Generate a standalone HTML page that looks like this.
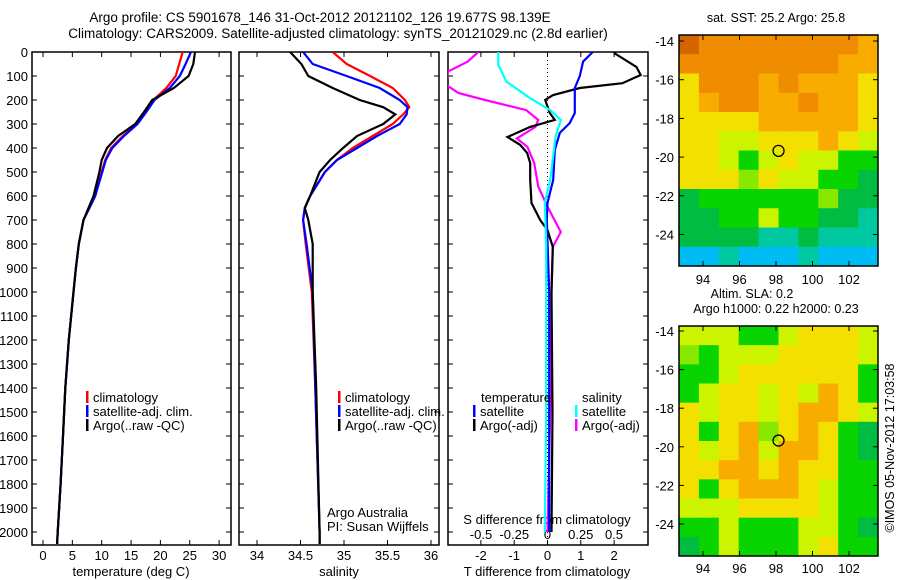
<!DOCTYPE html>
<html><head><meta charset="utf-8"><style>
body{margin:0;background:#fff}
svg{display:block;font-family:"Liberation Sans",sans-serif}
text{fill:#000}
</style></head><body>
<svg id="c" width="900" height="580" viewBox="0 0 900 580">
<text x="320" y="22" font-size="13.5" text-anchor="middle">Argo profile: CS 5901678_146 31-Oct-2012 20121102_126 19.677S 98.139E</text>
<text x="338" y="38" font-size="13.5" text-anchor="middle">Climatology: CARS2009. Satellite-adjusted climatology: synTS_20121029.nc (2.8d earlier)</text>
<text x="776" y="22" font-size="12.5" text-anchor="middle">sat. SST: 25.2 Argo: 25.8</text>
<text x="752" y="298" font-size="12.5" text-anchor="middle">Altim. SLA: 0.2</text>
<text x="776" y="313" font-size="12.5" text-anchor="middle">Argo h1000: 0.22 h2000: 0.23</text>
<text transform="translate(894,448) rotate(-90)" font-size="12.5" text-anchor="middle">©IMOS 05-Nov-2012 17:03:58</text>
</svg>
<script>
const depths=[0,50,100,150,200,250,300,350,400,450,500,600,700,800,900,1000,1200,1400,1600,1800,2000,2050];
const tempClim=[23.8,23.2,22.6,21,18.8,17.4,16,13.6,11.6,10.6,10,8.9,6.9,6.1,5.6,5.2,4.4,3.8,3.4,3.0,2.5,2.4];
const tempSat=[25.2,24.3,23.3,21.6,19,17.6,16.1,13.8,11.8,10.7,10.1,8.9,6.9,6.1,5.6,5.2,4.4,3.8,3.4,3.0,2.5,2.4];
const tempArgo=[25.9,25.6,24.8,22.3,18.6,17.2,15.7,12.8,10.9,10,9.6,8.6,6.9,6.1,5.6,5.2,4.4,3.8,3.4,3.0,2.5,2.4];
const salDepths=[0,50,100,150,200,230,260,300,350,400,450,500,600,650,700,800,1000,1400,2000,2050];
const salClim=[34.87,35.03,35.3,35.56,35.7,35.75,35.68,35.56,35.33,35.1,34.92,34.78,34.61,34.55,34.53,34.56,34.63,34.67,34.72,34.72];
const salSat=[34.53,34.64,35.03,35.41,35.64,35.73,35.72,35.64,35.38,35.15,34.92,34.78,34.61,34.55,34.53,34.57,34.64,34.67,34.72,34.72];
const salArgo=[34.38,34.51,34.59,34.87,35.18,35.45,35.59,35.45,35.15,34.99,34.84,34.72,34.61,34.55,34.59,34.64,34.64,34.68,34.72,34.72];
const dtArgoDepths=[4,62,96,130,150,179,200,254,283,312,354,387,421,463,533,629,700,742,812,1000,1500,2000];
const dtArgo=[2.0,2.67,2.8,2.25,0.97,0.17,-0.07,0.07,0.22,-0.52,-1.2,-0.82,-0.61,-0.52,-0.52,-0.48,-0.22,0,0.16,0.12,0.15,0.12];
const dtSatDepths=[0,40,100,150,254,296,337,408,533,629,700,1000,1500,2000];
const dtSat=[1.36,1.07,0.97,0.82,0.82,0.67,0.37,0.22,0.17,0,-0.02,0.05,0.05,0.05];
const dsArgoDepths=[0,40,82,137,171,200,242,283,312,360,396,463,560,644,750,812,1000,1500,2000];
const dsArgo=[-0.52,-0.6,-0.75,-0.76,-0.67,-0.47,-0.16,-0.07,-0.09,-0.23,-0.15,-0.1,-0.07,0,0.1,0.04,0.03,0.02,0.0];
const dsSatDepths=[0,53,123,193,242,283,354,533,629,800,1500,2000];
const dsSat=[-0.37,-0.37,-0.31,-0.13,0.02,0.1,0.06,0.02,-0.02,-0.01,-0.01,-0.02];
const depthTicks=[0,100,200,300,400,500,600,700,800,900,1000,1100,1200,1300,1400,1500,1600,1700,1800,1900,2000];
const tempTicks=[0,5,10,15,20,25,30];
const salTicks=[34,34.5,35,35.5,36];
const salTickLabels=["34","34.5","35","35.5","36"];
const dtTicks=[-2,-1,0,1,2];
const dsTicks=[-0.5,-0.25,0,0.25,0.5];
const lonTicks=[94,96,98,100,102];
const latTicks=[-14,-16,-18,-20,-22,-24];
const argoLon=98.139, argoLat=-19.677;
const sstGrid=["0111111112","1111111122","3111212223","3211221223","3333222223","3344333234","3346434466","3335344667","7666666577","7766466778","7777887888","9989998999"];
const slaGrid=["4446643334","5644433334","6643333336","6433434236","3433432234","3632532367","3432422367","3322323366","3632223466","4443333466","6646664467","7646664366"];
const palette=["#d46400","#f08c00","#f8ac00","#f4e000","#ccf400","#88e800","#08d400","#00bc40","#00c8a0","#00bcf4","#0098ff"];

const svg=document.getElementById('c');
const NS='http://www.w3.org/2000/svg';
function el(t,a,p){const e=document.createElementNS(NS,t);for(const k in a)e.setAttribute(k,a[k]);(p||svg).appendChild(e);return e;}
const yD=d=>52+0.24*d;
const xT=v=>43+5.87*v;
const xS=v=>257+87*(v-34);
const xDT=v=>547.5+33.3*v;
const xDS=v=>547.5+133*v;
const panels=[[32,231],[239,439],[448,648]];
const TOP=52,BOT=545;

function frame(x0,x1,name){
  const r=el('rect',{x:x0,y:TOP,width:x1-x0,height:BOT-TOP,fill:'none',stroke:'#000','stroke-width':1.5});
  
  
  depthTicks.forEach(d=>{const y=yD(d);
    el('line',{x1:x0,x2:x0+5,y1:y,y2:y,stroke:'#000'});
    el('line',{x1:x1-5,x2:x1,y1:y,y2:y,stroke:'#000'});});
}
frame(32,231,'temperature-panel');frame(239,439,'salinity-panel');frame(448,648,'difference-panel');
depthTicks.forEach(d=>{const t=el('text',{x:28,y:yD(d)+5,'font-size':13,'text-anchor':'end'});t.textContent=d;

});
function xticks(vals,labels,f,name){vals.forEach((v,i)=>{const x=f(v);
 el('line',{x1:x,x2:x,y1:BOT-5,y2:BOT,stroke:'#000'});el('line',{x1:x,x2:x,y1:TOP,y2:TOP+5,stroke:'#000'});
 const t=el('text',{x:x,y:560,'font-size':13,'text-anchor':'middle'});t.textContent=labels[i];
 
 });}
xticks(tempTicks,tempTicks.map(String),xT,'temperature-tick-label');
xticks(salTicks,salTickLabels,xS,'salinity-tick-label');
xticks(dtTicks,dtTicks.map(String),xDT,'t-difference-tick-label');
dsTicks.forEach(v=>{const t=el('text',{x:xDS(v),y:539,'font-size':13,'text-anchor':'middle'});t.textContent=String(v);

});
[['temperature (deg C)',131,'temperature-axis-title'],['salinity',339,'salinity-axis-title'],['T difference from climatology',547,'t-difference-axis-title']].forEach(a=>{
 const t=el('text',{x:a[1],y:576,'font-size':13,'text-anchor':'middle'});t.textContent=a[0];
 
 });
const sd=el('text',{x:547,y:524,'font-size':13,'text-anchor':'middle'});sd.textContent='S difference from climatology';


el('line',{x1:547.5,x2:547.5,y1:TOP,y2:BOT,stroke:'#000','stroke-dasharray':'1,3'});

const clip=el('clipPath',{id:'cp'});panels.forEach(p=>el('rect',{x:p[0],y:TOP,width:p[1]-p[0],height:BOT-TOP},clip));
function line(ds,vs,f,col,name){const pts=ds.map((d,i)=>f(vs[i]).toFixed(1)+','+yD(Math.min(d,2054)).toFixed(1)).join(' ');
 const p=el('polyline',{points:pts,fill:'none',stroke:col,'stroke-width':2.2,'clip-path':'url(#cp)'});
 
 }
line(depths,tempClim,xT,'#f00','temperature-climatology-line');
line(depths,tempSat,xT,'#00f','temperature-satellite-line');
line(depths,tempArgo,xT,'#000','temperature-argo-line');
line(salDepths,salClim,xS,'#f00','salinity-climatology-line');
line(salDepths,salSat,xS,'#00f','salinity-satellite-line');
line(salDepths,salArgo,xS,'#000','salinity-argo-line');
line(dsArgoDepths,dsArgo,xDS,'#f0f','s-diff-argo-line');
line(dtArgoDepths,dtArgo,xDT,'#000','t-diff-argo-line');
line(dtSatDepths,dtSat,xDT,'#00f','t-diff-satellite-line');
line(dsSatDepths,dsSat,xDS,'#0ff','s-diff-satellite-line');

function legend(x,y,col,txt,name){el('rect',{x:x,y:y-11,width:2.5,height:12,fill:col});
 const t=el('text',{x:x+7,y:y,'font-size':13});t.textContent=txt;
 
 }
[[86,'temp'],[338,'sal']].forEach(([x,n])=>{
 legend(x,402,'#f00','climatology',n+'-legend-climatology');
 legend(x,416,'#00f','satellite-adj. clim.',n+'-legend-satellite');
 legend(x,430,'#000','Argo(..raw -QC)',n+'-legend-argo');});
let t=el('text',{x:481,y:402,'font-size':13});t.textContent='temperature';


t=el('text',{x:582,y:402,'font-size':13});t.textContent='salinity';


legend(473,416,'#00f','satellite','legend-t-satellite');legend(473,430,'#000','Argo(-adj)','legend-t-argo');
legend(575,416,'#0ff','satellite','legend-s-satellite');legend(575,430,'#f0f','Argo(-adj)','legend-s-argo');
t=el('text',{x:327,y:517,'font-size':13});t.textContent='Argo Australia';


t=el('text',{x:327,y:531,'font-size':13});t.textContent='PI: Susan Wijffels';



function map(grid,top,bot,lat14,lat24,name,lonY){
 const L=679,R=878,rows=grid.length,cols=grid[0].length,cw=(R-L)/cols,ch=(bot-top)/rows;
 const g=el('g',{});
 grid.forEach((row,r)=>[...row].forEach((c,k)=>{
  const cell=el('rect',{x:L+k*cw,y:top+r*ch,width:cw+0.5,height:ch+0.5,fill:palette[+c]},g);
  
 }));
 el('rect',{x:L,y:top,width:R-L,height:bot-top,fill:'none',stroke:'#000','stroke-width':1.5});
 const xL=v=>703+(v-94)*18.25, yL=v=>lat14+(v+14)*(lat14-lat24)/10;
 lonTicks.forEach(v=>{const x=xL(v);el('line',{x1:x,x2:x,y1:bot-5,y2:bot,stroke:'#000'});el('line',{x1:x,x2:x,y1:top,y2:top+5,stroke:'#000'});
  const tt=el('text',{x:x,y:lonY,'font-size':13,'text-anchor':'middle'});tt.textContent=v;
  
  });
 latTicks.forEach(v=>{const y=yL(v);el('line',{x1:L,x2:L+5,y1:y,y2:y,stroke:'#000'});el('line',{x1:R-5,x2:R,y1:y,y2:y,stroke:'#000'});
  const tt=el('text',{x:674,y:y+5,'font-size':13,'text-anchor':'end'});tt.textContent=v;
  
  });
 const c=el('circle',{cx:xL(argoLon),cy:yL(argoLat),r:5.5,fill:'none',stroke:'#000','stroke-width':1.3});
 
 
}
map(sstGrid,35,266,41,234.5,'sst-map',284);
map(slaGrid,326,556,331,524,'sla-map',573);
</script>
</body></html>
